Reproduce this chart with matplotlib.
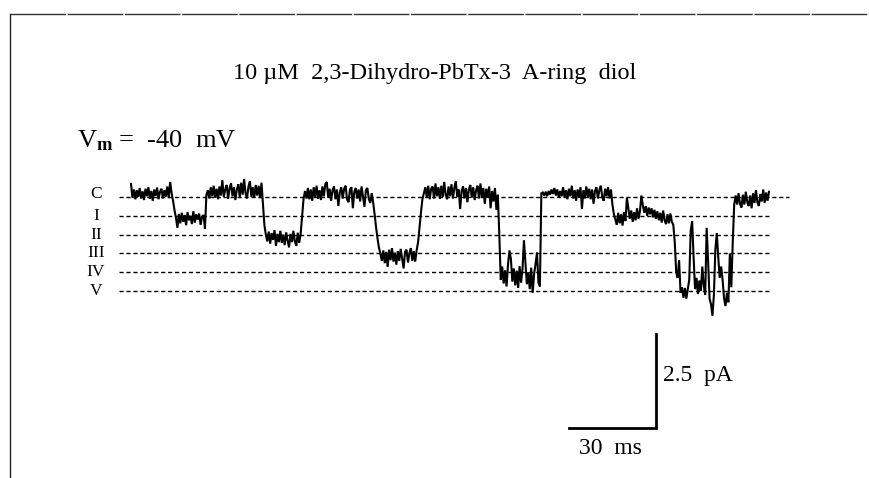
import numpy as np
import matplotlib
matplotlib.use("Agg")
import matplotlib.pyplot as plt

plt.rcParams['font.family'] = ['Liberation Serif', 'DejaVu Serif']
plt.rcParams['mathtext.fontset'] = 'custom'
plt.rcParams['mathtext.rm'] = 'Liberation Serif'
plt.rcParams['mathtext.bf'] = 'Liberation Serif:bold'
plt.rcParams['mathtext.it'] = 'Liberation Serif:italic'

# --- data: single channel current (pA), sampled every 0.5 ms, split by dwell ---
dt_ms = 0.5
closed_1 = [0.35, -0.02, 0.20, -0.06, 0.18, 0.00, 0.24, -0.04, 0.15, -0.08, 0.22, 0.02, 0.26, -0.05, 0.16,
            -0.10, 0.20, 0.03, 0.25, -0.06, 0.14, 0.22, -0.04, 0.18, 0.01, 0.28, -0.03, 0.40, 0.10]
to_I_1 = [-0.10, -0.35, -0.55]
open_I_1 = [-0.82, -0.45, -0.70, -0.42, -0.66, -0.48, -0.75, -0.40, -0.62, -0.50, -0.72, -0.38, -0.68, -0.46,
            -0.60, -0.44, -0.74, -0.52, -0.48, -0.84]
shut_1 = [0.05]
closed_2 = [0.18, -0.04, 0.26, 0.02, 0.30, -0.02, 0.22, -0.06, 0.28, 0.04, 0.45, 0.00, 0.20, 0.32, -0.05, 0.24,
            0.36, 0.02, 0.26, -0.08, 0.20, 0.34, 0.00, 0.38, 0.06, 0.48, 0.10, -0.04, 0.28, 0.42, 0.00, 0.26,
            -0.02, 0.32, 0.04, 0.30, -0.03, 0.38]
to_II = [-0.20, -0.75, -1.00]
open_II = [-1.18, -0.92, -1.24, -0.96, -1.14, -0.88, -1.30, -0.98, -1.20, -0.90, -1.22, -1.00, -1.28, -0.94,
           -1.16, -1.34, -0.98, -1.20, -0.90, -1.18, -1.30, -0.95, -1.22, -0.98]
shut_2 = [-0.50, -0.05]
closed_3 = [0.16, -0.04, 0.24, -0.06, 0.20, -0.10, 0.26, 0.00, 0.30, -0.05, 0.18, -0.08, 0.28, 0.02, 0.34, 0.40,
            -0.02, 0.22, -0.10, 0.18, 0.28, -0.06, 0.20, -0.24, 0.12, 0.26, -0.04, 0.22, 0.30, -0.06, -0.14, 0.20,
            0.26, -0.30, 0.14, 0.24, -0.04, 0.20, -0.12, 0.28, 0.02, -0.26, 0.18, 0.24, -0.05, -0.16, 0.10]
to_III = [-0.15, -0.45, -0.80, -1.10, -1.35, -1.50]
open_III = [-1.70, -1.42, -1.76, -1.46, -1.86, -1.40, -1.68, -1.36, -1.72, -1.48, -1.80, -1.44, -1.70, -1.38,
            -1.64, -1.90, -1.46, -1.40, -1.74, -1.50, -1.36, -1.70, -1.44, -1.72, -1.42]
shut_3 = [-1.20, -0.80, -0.40, -0.05]
closed_4 = [0.10, 0.26, -0.02, 0.30, -0.06, 0.22, 0.28, -0.04, 0.36, 0.02, 0.26, -0.05, 0.30, 0.00, 0.40, 0.06,
            -0.06, 0.28, 0.02, 0.34, -0.04, 0.24, 0.42, 0.00, 0.20, -0.32, 0.16, 0.28, -0.04, 0.24, -0.14, 0.20,
            0.32, -0.02, 0.26, -0.08, 0.18, 0.30, -0.04, 0.36, 0.00, 0.24, -0.18, 0.22, -0.02, 0.28, -0.30, 0.16,
            -0.12, 0.24, -0.34, 0.06]
to_IV = [-1.00]
open_IV = [-2.20, -1.85, -2.30, -1.95, -2.38, -1.80, -1.42, -1.65, -2.25, -1.90, -2.35, -1.96, -2.42, -1.84,
           -2.28, -1.92, -1.15, -1.75, -2.32, -2.00, -2.45, -1.88, -2.55, -2.05, -1.78, -1.48, -2.28, -2.38]
shut_4 = [0.10]
closed_5 = [0.12, 0.04, 0.14, 0.02, 0.16, 0.06, 0.20, 0.08, 0.24, 0.04, 0.20, -0.02, 0.16, 0.02, 0.26, -0.02,
            0.18, -0.06, 0.22, 0.02, 0.30, -0.04, 0.18, -0.10, 0.20, 0.00, 0.26, -0.32, 0.18, -0.04, 0.28, 0.00,
            0.22, -0.06, 0.20, -0.18, 0.16, 0.26, -0.04, 0.18, 0.30, 0.00, -0.10, 0.22, 0.02, 0.26, -0.04, 0.20]
to_I_2 = [-0.20, -0.45]
open_I_2 = [-0.60, -0.74, -0.42, -0.70, -0.46, -0.76, -0.40, -0.64, -0.02, -0.30, -0.58, -0.36, -0.66, -0.40,
            -0.62, -0.30, -0.58, -0.38, 0.04, -0.22, -0.42, -0.24, -0.50, -0.28, -0.46, -0.30, -0.54, -0.34,
            -0.58, -0.38, -0.62, -0.42, -0.68, -0.36, -0.62, -0.72, -0.46, -0.70, -0.44, -0.66, -0.74]
to_V = [-1.20, -2.00]
burst_V = [-2.15, -1.68, -2.55, -2.40, -2.68, -2.42, -2.70, -2.45, -2.20, -0.90, -0.64, -1.60, -2.45, -2.15,
           -2.58, -2.22, -2.50, -1.85, -2.36, -2.60, -0.82, -1.70, -2.70, -2.85, -3.16, -2.60, -1.40, -0.96,
           -1.60, -2.15, -1.85, -2.20, -2.70, -2.90, -2.55, -2.80, -1.50]
shut_5 = [-2.40, -1.20, -0.20]
closed_6 = [0.04, -0.20, 0.10, -0.18, -0.28, 0.06, -0.20, 0.14, -0.14, -0.24, 0.04, -0.30, 0.10, -0.16,
            0.18, -0.14, -0.24, 0.08, -0.12, 0.20, -0.16, 0.12, -0.10, 0.14]

dwells = [closed_1, to_I_1, open_I_1, shut_1, closed_2, to_II, open_II, shut_2, closed_3, to_III, open_III,
          shut_3, closed_4, to_IV, open_IV, shut_4, closed_5, to_I_2, open_I_2, to_V, burst_V, shut_5, closed_6]
current = np.concatenate([np.array(d) for d in dwells])
time_ms = np.arange(len(current)) * dt_ms

level_names = ['C', 'I', 'II', 'III', 'IV', 'V']
level_pA = [0.0, -0.5, -1.0, -1.5, -2.0, -2.5]

title = '10 \u00b5M  2,3-Dihydro-PbTx-3  A-ring  diol'
vm_label = r'V$_{\mathbf{m}}$ =  -40  mV'
scale_t_ms = 30
scale_i_pA = 2.5

# --- layout (pixel geometry of the 870x478 figure) ---
W, H = 870, 478
X0, PX_MS = 131, 2.9      # trace start, px per ms
Y0, PX_PA = 197, 37.6     # closed level, px per pA

fig = plt.figure(figsize=(W / 100, H / 100), dpi=100)
ax = fig.add_axes([0, 0, 1, 1])
ax.set_xlim(-X0 / PX_MS, (W - X0) / PX_MS)
ax.set_ylim(-(H - Y0) / PX_PA, Y0 / PX_PA)
ax.axis('off')


def fx(x):
    return x / W


def fy(y):
    return 1 - y / H


# frame (left and top edges only)
fig.add_artist(plt.Line2D([fx(10), fx(10)], [fy(14), 0], color='#222222', lw=1.0))
fig.add_artist(plt.Line2D([fx(10), 1], [fy(14), fy(14)], color='#333333', lw=1.0,
                          linestyle=(0, (40, 1.2))))

# level lines and labels
for name, lev in zip(level_names, level_pA):
    x_end = 227 if name == 'C' else 220.7
    ax.plot([-4.1, x_end], [lev, lev], color='black', lw=1.0, linestyle=(0, (3.0, 2.0)))
    ax.text(-12.1, lev + (0.08 if name == 'C' else 0.0), name, ha='center', va='center',
            fontsize=12.5)

# current trace
ax.plot(time_ms, current, color='black', lw=1.5, solid_joinstyle='miter')

# scale bars
bar_t, bar_i = 181.0, -6.14
ax.plot([bar_t - scale_t_ms, bar_t, bar_t], [bar_i, bar_i, bar_i + scale_i_pA], color='black', lw=2.0,
        solid_joinstyle='miter')
fig.text(fx(663), fy(375), f'{scale_i_pA}  pA', ha='left', va='center', fontsize=17)
fig.text(fx(579), fy(448), f'{scale_t_ms}  ms', ha='left', va='center', fontsize=17)

fig.text(fx(435), fy(74), title, ha='center', va='center', fontsize=17.5)
fig.text(fx(77), fy(147), vm_label, ha='left', va='baseline', fontsize=19)

fig.savefig('out.png', dpi=100)
